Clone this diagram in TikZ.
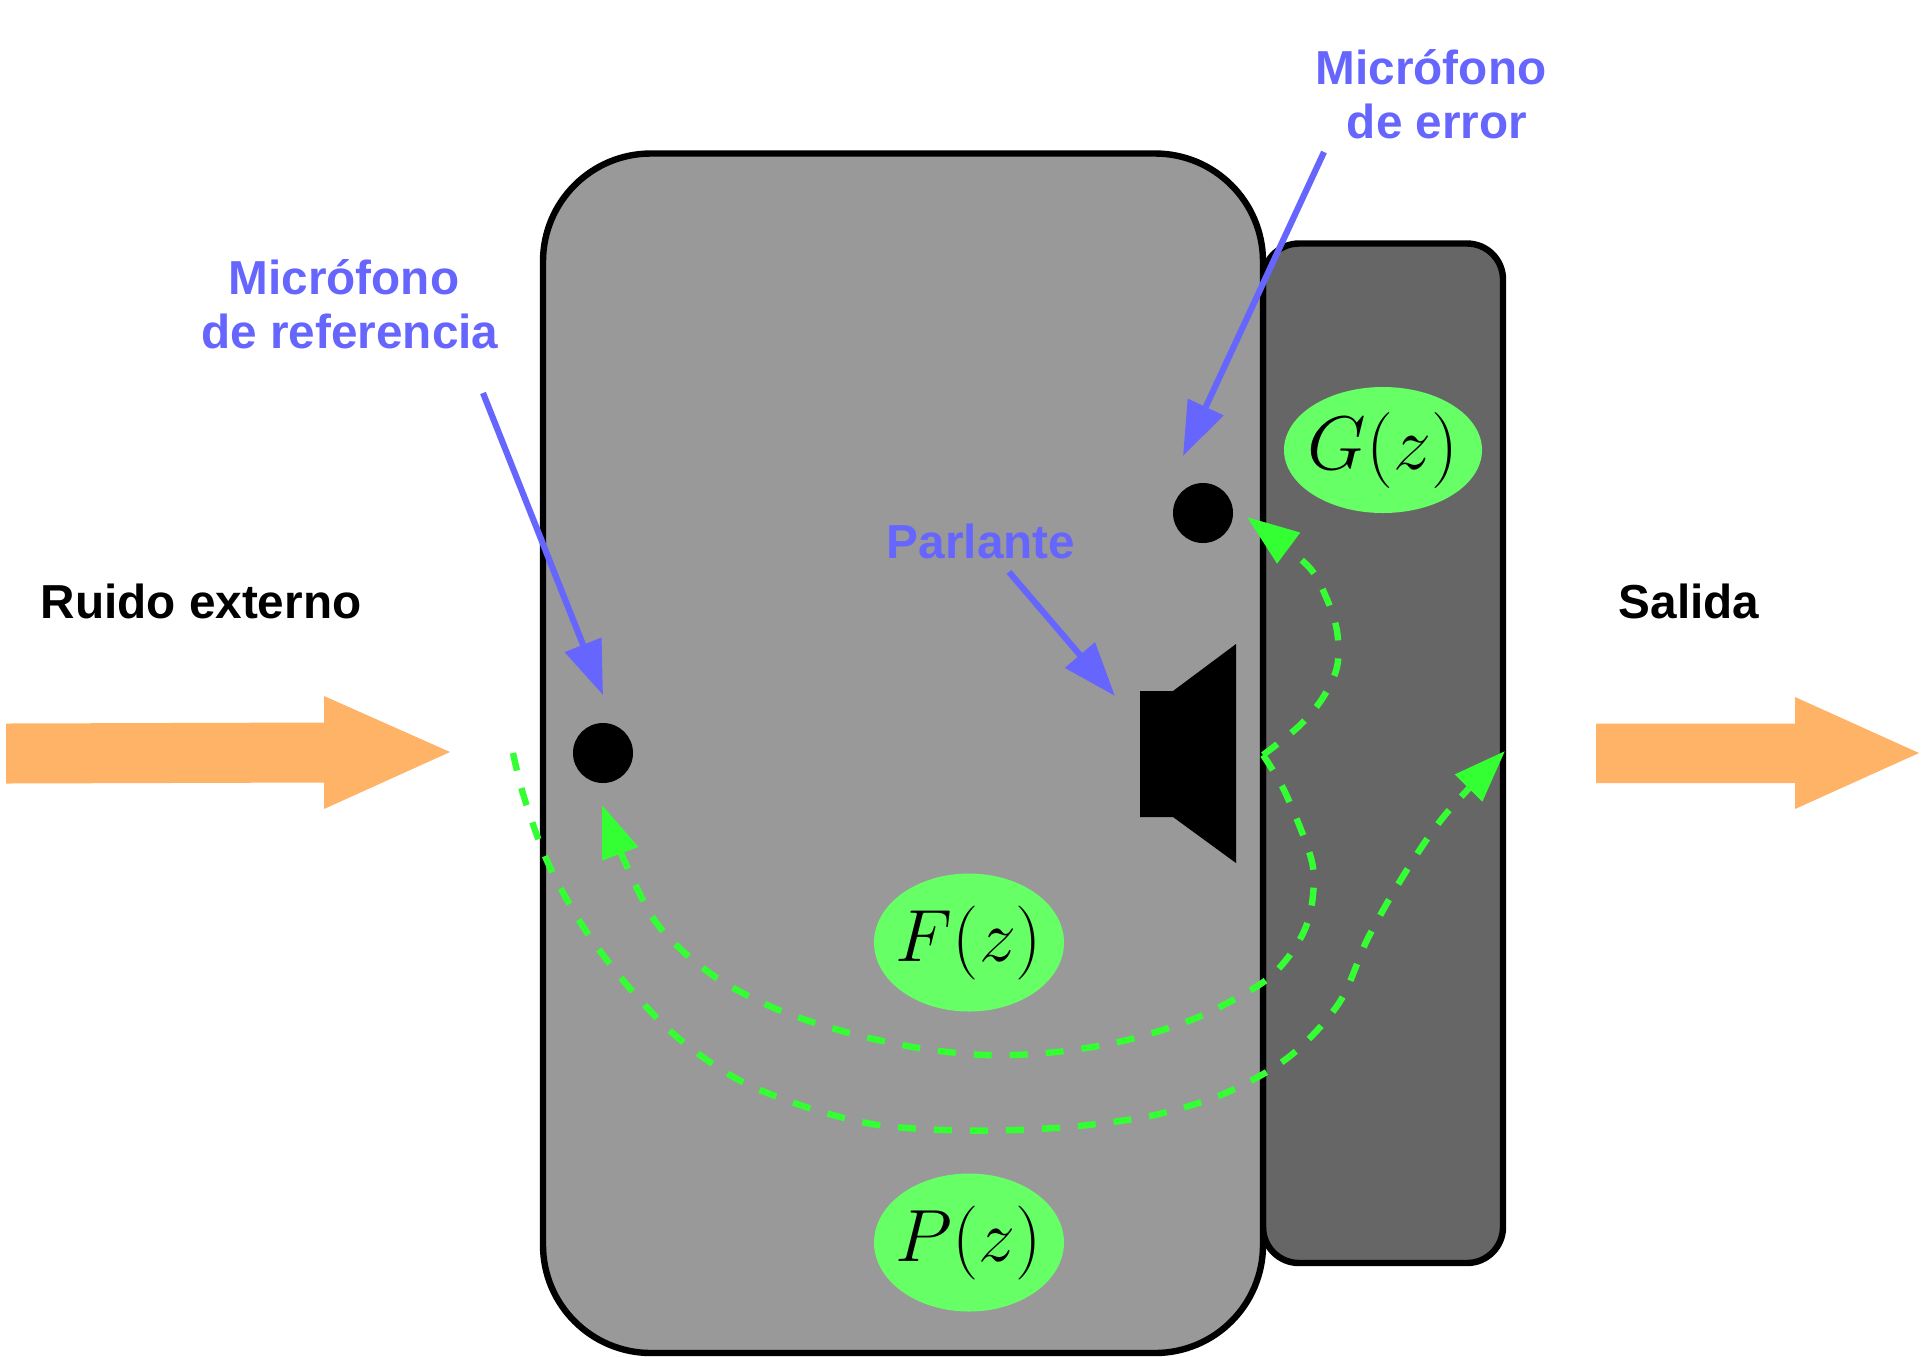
\RequirePackage{fix-cm}
\documentclass[tikz,border=0pt]{standalone}
\usepackage{fontspec}
\setmainfont{Liberation Sans}
\usetikzlibrary{arrows.meta,shapes.geometric}
\definecolor{bodygray}{HTML}{999999}
\definecolor{sidegray}{HTML}{666666}
\definecolor{labblue}{HTML}{6666FF}
\definecolor{pathgreen}{HTML}{33FF33}
\definecolor{tfgreen}{HTML}{66FF66}
\definecolor{flow}{HTML}{FFB366}
\tikzset{
  case/.style={draw=black,line width=3.2pt},
  tf/.style={ellipse,fill=tfgreen,inner sep=-10pt,minimum width=#1*1pt},
  mic/.style={circle,fill=black,inner sep=0pt,minimum size=30pt},
  lab/.style={font=\fontsize{23.85}{27}\selectfont\bfseries,align=center,inner sep=0pt},
  bluelab/.style={lab,text=labblue},
  callout/.style={draw=labblue,line width=3.1pt,-{Triangle[length=27pt,width=19pt]}},
  acoustic/.style={draw=pathgreen,line width=3.2pt,dash pattern=on 9pt off 9pt,-{Triangle[length=26pt,width=18.5pt]}},
  flowarrow/.style={fill=flow}
}
\newcommand{\tfG}[1]{\raisebox{-1.5pt}{\fontsize{38}{46}\selectfont$#1$}}
\newcommand{\tfF}[1]{\raisebox{-1.5pt}{\fontsize{37}{45}\selectfont$#1$}}
\begin{document}
\begin{tikzpicture}[x=0.5pt,y=-0.5pt]
\useasboundingbox (0,0) rectangle (1926,1356);
% housing
\draw[case,fill=sidegray,rounded corners=18pt] (1263,243.5) rectangle (1503,1263);
\draw[case,fill=bodygray,rounded corners=54pt] (543,153.5) rectangle (1263,1353);
% flow arrows
\fill[flowarrow] (6,723.5) -- (324,722.5) -- (324,696) -- (450,752) -- (324,809) -- (324,782.5) -- (6,783.5) -- cycle;
\fill[flowarrow] (1596,723.5) -- (1795,723.5) -- (1795,697) -- (1919,753) -- (1795,809) -- (1795,783) -- (1596,783) -- cycle;
% microphones and speaker
\node[mic] (refmic) at (603,753) {};
\node[mic] (errmic) at (1203,513) {};
\fill[black] (1140,691) -- (1173,691) -- (1236,644) -- (1236,863) -- (1173,817) -- (1140,817) -- cycle;
% transfer functions
\node[tf=99] (G) at (1383,450) [minimum height=63pt] {\tfG{G(z)}};
\node[tf=95] (F) at (969,942.5) [minimum height=69pt] {\tfF{F(z)}};
\node[tf=95] (P) at (969,1242.5) [minimum height=69pt] {\tfF{P(z)}};
% labels
\node[bluelab] (lref) at (350,304) {Micrófono\hspace*{6pt}\\de referencia};
\node[bluelab] (lerr) at (1437,94) {Micrófono\hspace*{6pt}\\de error};
\node[bluelab] (lspk) at (981,541) {Parlante};
\node[lab] (lin) at (201,601) {Ruido externo};
\node[lab] (lout) at (1689,601) {Salida};
% callouts
\coordinate (c1s) at (483,393); \coordinate (c1e) at (603,695);
\coordinate (c2s) at (1324,152); \coordinate (c2e) at (1183,456);
\coordinate (c3s) at (1009,572); \coordinate (c3e) at (1115,696);
\draw[callout] (c1s) -- (c1e);
\draw[callout] (c2s) -- (c2e);
\draw[callout] (c3s) -- (c3e);
% acoustic paths
\coordinate (p1s) at (513,753); \coordinate (p1e) at (1505,751);
\coordinate (p2s) at (1263,755); \coordinate (p2e) at (602,805);
\coordinate (p3e) at (1247,517);
\draw[acoustic] plot[smooth,tension=0.55] coordinates {(p1s) (524,797) (548,863) (584,928) (627,985) (677,1037) (737,1079) (803,1106) (872,1124) (944,1130) (1016,1130) (1088,1125) (1159,1114) (1228,1092) (1290,1056) (1339,1003) (1368,938) (1405,873) (1445,815) (p1e)};
\draw[acoustic] plot[smooth,tension=0.55] coordinates {(p2s) (1285,792) (1311,858) (1313,895) (1305,929) (1286,960) (1259,985) (1196,1018) (1127,1040) (1056,1052) (985,1055) (913,1047) (842,1031) (774,1008) (711,974) (658,925) (625,862) (p2e)};
\draw[acoustic] plot[smooth,tension=0.55] coordinates {(p2s) (1298,727) (1322,699) (1337,667) (1337,631) (1326,597) (1307,565) (p3e)};
\end{tikzpicture}
\end{document}
